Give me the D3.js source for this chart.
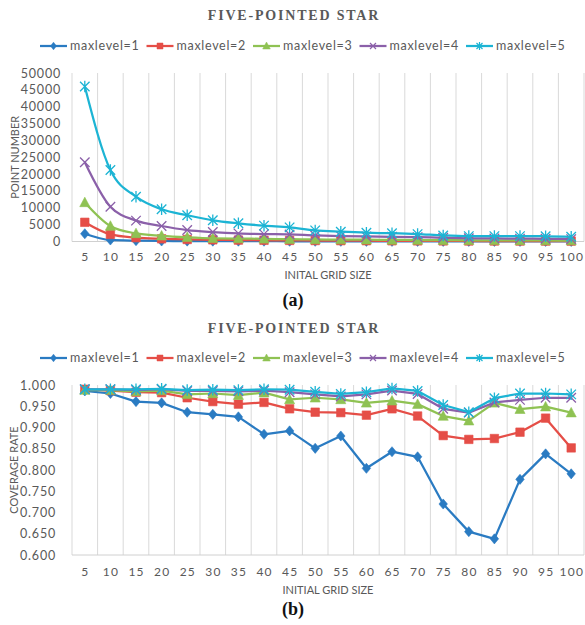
<!DOCTYPE html>
<html>
<head>
<meta charset="utf-8">
<script src="https://cdn.jsdelivr.net/npm/d3@7"></script>
<style>
  html, body { margin: 0; padding: 0; background: #fff; }
  svg { display: block; }
</style>
</head>
<body>
<svg id="chart" width="585" height="625"></svg>
<script>
// Initial grid sizes (x categories)
const gridSizes = ["5","10","15","20","25","30","35","40","45","50","55","60","65","70","75","80","85","90","95","100"];
const seriesNames = ["maxlevel=1","maxlevel=2","maxlevel=3","maxlevel=4","maxlevel=5"];

// Point number per max level
const points1 = [2300, 450, 250, 150, 120, 100, 90, 80, 70, 60, 55, 50, 45, 40, 35, 30, 30, 25, 25, 20];
const points2 = [5700, 2100, 1130, 800, 600, 500, 420, 360, 320, 280, 250, 230, 210, 190, 170, 150, 140, 130, 120, 110];
const points3 = [11600, 4600, 2400, 1700, 1250, 950, 880, 780, 700, 620, 560, 520, 480, 440, 400, 360, 340, 320, 300, 290];
const points4 = [23500, 10300, 6200, 4600, 3400, 2800, 2400, 2200, 2100, 1800, 1600, 1500, 1400, 1300, 1100, 950, 900, 850, 800, 700];
const points5 = [46000, 21200, 13300, 9550, 7800, 6300, 5400, 4700, 4200, 3300, 2900, 2600, 2450, 2200, 1800, 1600, 1600, 1600, 1550, 1400];

// Coverage rate per max level
const rate1 = [0.986, 0.980, 0.961, 0.958, 0.936, 0.931, 0.925, 0.884, 0.892, 0.851, 0.880, 0.804, 0.843, 0.831, 0.720, 0.655, 0.638, 0.778, 0.838, 0.791];
const rate2 = [0.990, 0.987, 0.983, 0.982, 0.970, 0.961, 0.955, 0.959, 0.944, 0.936, 0.935, 0.929, 0.944, 0.927, 0.881, 0.872, 0.874, 0.889, 0.922, 0.852];
const rate3 = [0.988, 0.988, 0.985, 0.987, 0.978, 0.980, 0.976, 0.982, 0.966, 0.970, 0.966, 0.958, 0.963, 0.955, 0.927, 0.916, 0.958, 0.943, 0.949, 0.935];
const rate4 = [0.990, 0.990, 0.988, 0.990, 0.986, 0.986, 0.985, 0.987, 0.983, 0.978, 0.973, 0.978, 0.987, 0.979, 0.944, 0.935, 0.959, 0.965, 0.970, 0.970];
const rate5 = [0.990, 0.990, 0.990, 0.991, 0.988, 0.989, 0.988, 0.990, 0.989, 0.984, 0.979, 0.983, 0.992, 0.986, 0.953, 0.936, 0.969, 0.980, 0.980, 0.978];

const pointTicks = [0, 5000, 10000, 15000, 20000, 25000, 30000, 35000, 40000, 45000, 50000];
const rateTicks = [0.600, 0.650, 0.700, 0.750, 0.800, 0.850, 0.900, 0.950, 1.000];

const colors = ["#2a7bc2", "#e54e47", "#8fc253", "#8b60a9", "#1cb4d4"];
const markerKinds = ["diamond", "square", "triangle", "x", "asterisk"];

const svg = d3.select("#chart");
const FONT = "Lato, 'Open Sans', sans-serif";
const SERIF = "'Liberation Serif', 'DejaVu Serif', serif";
const TEXT = "#595959";

// Marker path generator, centred on origin
function markerPath(kind, s) {
  const h = s / 2;
  switch (kind) {
    case "diamond": return `M0,${-h - 0.8}L${h},0L0,${h + 0.8}L${-h},0Z`;
    case "square": return `M${-h},${-h}H${h}V${h}H${-h}Z`;
    case "triangle": return `M0,${-h - 1}L${h + 0.8},${h}L${-h - 0.8},${h}Z`;
    case "x": return `M${-h},${-h}L${h},${h}M${-h},${h}L${h},${-h}`;
    case "asterisk": return `M${-h},${-h}L${h},${h}M${-h},${h}L${h},${-h}M0,${-h - 1}V${h + 1}`;
  }
}
const filled = k => k === "diamond" || k === "square" || k === "triangle";
const markerSize = k => (k === "x" || k === "asterisk") ? 9.5 : 8.5;

function drawChart(cfg) {
  const g = svg.append("g");
  const x = d3.scaleBand().domain(gridSizes).range([cfg.left, cfg.right]).paddingInner(0).paddingOuter(0);
  const y = d3.scaleLinear().domain(cfg.domain).range([cfg.bottom, cfg.top]);

  // Title
  g.append("text")
    .attr("x", 294).attr("y", cfg.titleY)
    .attr("text-anchor", "middle")
    .attr("font-family", SERIF)
    .attr("font-weight", "bold")
    .attr("font-size", 14)
    .attr("letter-spacing", 1.8)
    .attr("fill", TEXT)
    .text("FIVE-POINTED STAR");

  // Legend
  const legend = g.append("g");
  seriesNames.forEach((name, i) => {
    const lx = 40 + i * 106.5;
    const item = legend.append("g").attr("transform", `translate(${lx},${cfg.legendY})`);
    item.append("line").attr("x1", 0).attr("x2", 27).attr("y1", 0).attr("y2", 0)
      .attr("stroke", colors[i]).attr("stroke-width", 2.25);
    item.append("path").attr("transform", "translate(13.5,0)")
      .attr("d", markerPath(markerKinds[i], 6))
      .attr("fill", filled(markerKinds[i]) ? colors[i] : "none")
      .attr("stroke", colors[i]).attr("stroke-width", filled(markerKinds[i]) ? 0.5 : 1.2);
    item.append("text").attr("x", 30).attr("y", 0).attr("dy", "0.35em")
      .attr("font-family", FONT).attr("font-size", 12.5).attr("letter-spacing", 0.7)
      .attr("fill", TEXT)
      .text(name);
  });

  // Vertical gridlines between categories
  const bounds = gridSizes.map(d => x(d)).concat([cfg.right]);
  g.append("g").selectAll("line").data(bounds).join("line")
    .attr("x1", d => d).attr("x2", d => d)
    .attr("y1", cfg.top).attr("y2", cfg.bottom)
    .attr("stroke", "#d9d9d9").attr("stroke-width", 1);

  // Category axis line
  g.append("line").attr("x1", cfg.left).attr("x2", cfg.right)
    .attr("y1", cfg.bottom).attr("y2", cfg.bottom)
    .attr("stroke", "#d0d0d0").attr("stroke-width", 1);

  // Y axis labels
  const yAxis = d3.axisLeft(y).tickValues(cfg.ticks).tickSize(0).tickPadding(0).tickFormat(cfg.fmt);
  const ya = g.append("g").attr("transform", `translate(${cfg.yLabelX},0)`).call(yAxis);
  ya.select(".domain").remove();
  ya.selectAll("text").attr("font-family", FONT).attr("font-size", 12.5)
    .attr("letter-spacing", 0.8).attr("fill", TEXT);

  // X axis labels
  const xAxis = d3.axisBottom(x).tickSize(0).tickPadding(0);
  const xa = g.append("g").attr("transform", `translate(0.6,${cfg.xLabelY})`).call(xAxis);
  xa.select(".domain").remove();
  xa.selectAll("text").attr("font-family", FONT).attr("font-size", 12).attr("fill", TEXT)
    .attr("letter-spacing", 1.2).attr("dy", "0.35em").attr("y", 0);

  // Axis titles
  g.append("text")
    .attr("transform", `translate(${cfg.yTitleX},${(cfg.top + cfg.bottom) / 2}) rotate(-90)`)
    .attr("text-anchor", "middle").attr("dy", "0.35em")
    .attr("font-family", FONT).attr("font-size", 11).attr("fill", TEXT)
    .text(cfg.yTitle);
  g.append("text")
    .attr("x", (cfg.left + cfg.right) / 2).attr("y", cfg.xTitleY).attr("dy", "0.35em")
    .attr("text-anchor", "middle")
    .attr("font-family", FONT).attr("font-size", 11).attr("fill", TEXT)
    .text(cfg.xTitle);

  // Panel label
  g.append("text")
    .attr("x", 293).attr("y", cfg.panelY).attr("dy", "0.35em")
    .attr("text-anchor", "middle")
    .attr("font-family", SERIF)
    .attr("font-weight", "bold").attr("font-size", 18).attr("fill", "#111")
    .text(cfg.panel);

  // Series lines and markers
  const cx = d => x(d) + x.bandwidth() / 2;
  const line = d3.line().x(d => cx(d.k)).y(d => y(d.v)).curve(cfg.curve);
  cfg.series.forEach((vals, i) => {
    const data = vals.map((v, j) => ({ k: gridSizes[j], v }));
    const kind = markerKinds[i];
    const sg = g.append("g");
    sg.append("path").datum(data).attr("d", line)
      .attr("fill", "none").attr("stroke", colors[i]).attr("stroke-width", 2.25)
      .attr("stroke-linejoin", "round");
    sg.selectAll("path.m").data(data).join("path").attr("class", "m")
      .attr("transform", d => `translate(${cx(d.k)},${y(d.v)})`)
      .attr("d", markerPath(kind, markerSize(kind)))
      .attr("fill", filled(kind) ? colors[i] : "none")
      .attr("stroke", colors[i]).attr("stroke-width", filled(kind) ? 0.6 : 1.3);
  });
}

drawChart({
  titleY: 19.5, legendY: 46,
  left: 72, right: 584, top: 73, bottom: 241.5,
  domain: [0, 50000], ticks: pointTicks, fmt: d3.format("d"),
  yLabelX: 61, xLabelY: 257, xTitleY: 275, yTitleX: 15,
  yTitle: "POINT NUMBER", xTitle: "INITAL GRID SIZE",
  panel: "(a)", panelY: 300,
  series: [points1, points2, points3, points4, points5],
  curve: d3.curveMonotoneX
});

drawChart({
  titleY: 332.5, legendY: 358,
  left: 72, right: 584, top: 385, bottom: 555,
  domain: [0.6, 1.0], ticks: rateTicks, fmt: d3.format(".3f"),
  yLabelX: 56, xLabelY: 572, xTitleY: 590, yTitleX: 14,
  yTitle: "COVERAGE RATE", xTitle: "INITIAL GRID SIZE",
  panel: "(b)", panelY: 609,
  series: [rate1, rate2, rate3, rate4, rate5],
  curve: d3.curveLinear
});
</script>
</body>
</html>
